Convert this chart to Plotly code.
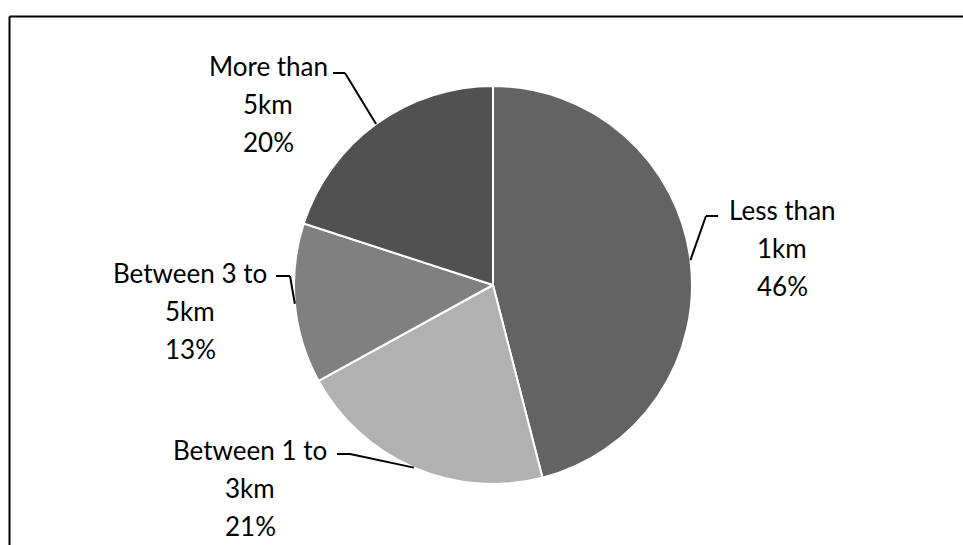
import math
import plotly.graph_objects as go

# distance buckets and share of respondents (%)
categories = ["Less than 1km", "Between 1 to 3km", "Between 3 to 5km", "More than 5km"]
values = [46, 21, 13, 20]
colors = ["#636363", "#b1b1b1", "#808080", "#515151"]

W, H = 963, 545
cx, cy, r = 493, 285, 199   # pie centre / radius in px

# label layout: text centre x, first-line y, leader start and elbow (px)
label_pos = [(782, 210), (250, 450), (190, 273), (268, 66)]
leader_start = [(718, 216), (337, 454), (276, 276), (333, 73)]
leader_elbow = [(706, 216), (350, 454), (290, 276), (345, 73)]
line_gap = 38

def px(x, y):
    return x / W, 1 - y / H

fig = go.Figure(go.Pie(
    labels=categories, values=values, sort=False, direction="clockwise",
    rotation=0, textinfo="none", hoverinfo="label+percent",
    marker=dict(colors=colors, line=dict(color="white", width=2)),
    domain=dict(x=[(cx - r) / W, (cx + r) / W], y=[(H - cy - r) / H, (H - cy + r) / H]),
    showlegend=False,
))

total = sum(values)
annotations = []
shapes = []
cum = 0
for i, (name, v) in enumerate(zip(categories, values)):
    mid = (cum + v / 2) / total * 2 * math.pi
    cum += v
    ax_, ay_ = cx + r * math.sin(mid), cy - r * math.cos(mid)
    lines = name.rsplit(" ", 1) + ["%d%%" % round(100 * v / total)]
    tx, ty = label_pos[i]
    for j, t in enumerate(lines):
        x, y = px(tx, ty + j * line_gap)
        annotations.append(dict(x=x, y=y, xref="paper", yref="paper", text=t,
                                showarrow=False, xanchor="center", yanchor="middle",
                                font=dict(family="Lato", size=26, color="black")))
    pts = [leader_start[i], leader_elbow[i], (ax_, ay_)]
    for a, b in zip(pts[:-1], pts[1:]):
        x0, y0 = px(*a)
        x1, y1 = px(*b)
        shapes.append(dict(type="line", xref="paper", yref="paper", x0=x0, y0=y0,
                           x1=x1, y1=y1, line=dict(color="black", width=2)))

# chart frame (top and left edges visible)
shapes.append(dict(type="line", xref="paper", yref="paper", x0=9.5 / W, y0=1 - 16.5 / H,
                   x1=1, y1=1 - 16.5 / H, line=dict(color="black", width=2)))
shapes.append(dict(type="line", xref="paper", yref="paper", x0=9.5 / W, y0=1 - 16.5 / H,
                   x1=9.5 / W, y1=0, line=dict(color="black", width=2)))

fig.update_layout(width=W, height=H, margin=dict(l=0, r=0, t=0, b=0),
                  paper_bgcolor="white", plot_bgcolor="white",
                  annotations=annotations, shapes=shapes)

fig.write_html("out.html", config={"displayModeBar": False},
               post_script="document.body.style.margin='0';")
